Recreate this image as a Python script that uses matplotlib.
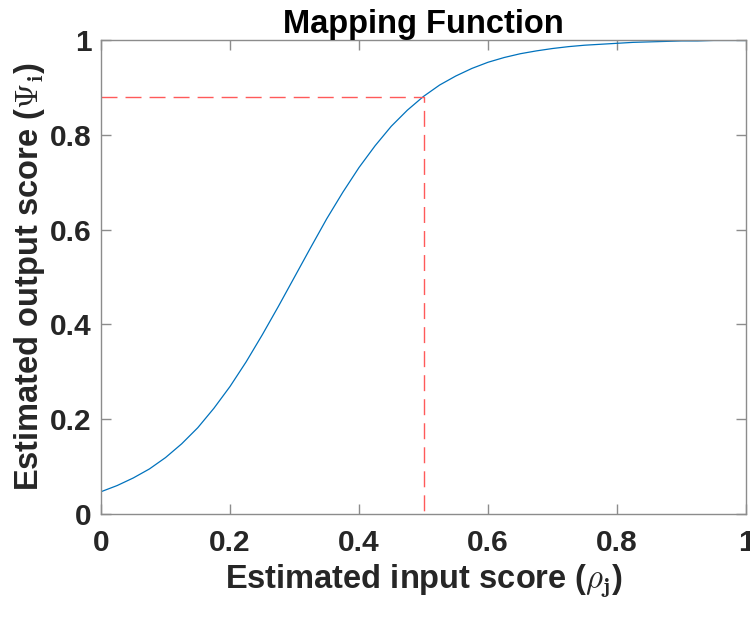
import numpy as np
import matplotlib
matplotlib.use("Agg")
import matplotlib.pyplot as plt

# values
x_vals = [0.000, 0.025, 0.050, 0.075, 0.100, 0.125, 0.150, 0.175, 0.200, 0.225,
          0.250, 0.275, 0.300, 0.325, 0.350, 0.375, 0.400, 0.425, 0.450, 0.475,
          0.500, 0.525, 0.550, 0.575, 0.600, 0.625, 0.650, 0.675, 0.700, 0.725,
          0.750, 0.775, 0.800, 0.825, 0.850, 0.875, 0.900, 0.925, 0.950, 0.975,
          1.000]
y_vals = [0.047, 0.060, 0.076, 0.095, 0.119, 0.148, 0.182, 0.223, 0.269, 0.321,
          0.378, 0.438, 0.500, 0.562, 0.623, 0.679, 0.731, 0.777, 0.818, 0.852,
          0.881, 0.905, 0.924, 0.940, 0.953, 0.963, 0.971, 0.977, 0.982, 0.986,
          0.989, 0.991, 0.993, 0.995, 0.996, 0.997, 0.998, 0.998, 0.999, 0.999,
          0.999]

# marker lines (input 0.5 -> output 0.88)
guide_x = [0.0, 0.5, 0.5]
guide_y = [0.88, 0.88, 0.0]

ticks = [0, 0.2, 0.4, 0.6, 0.8, 1]
tick_labels = ["0", "0.2", "0.4", "0.6", "0.8", "1"]

plt.rcParams["font.family"] = ["Liberation Sans", "DejaVu Sans"]
plt.rcParams["mathtext.fontset"] = "cm"

fig = plt.figure(figsize=(7.5, 6.18), dpi=100)
ax = fig.add_axes([0.1347, 0.1683, 0.86, 0.767])

ax.plot(x_vals, y_vals, color="#0072BD", lw=0.9)
ax.plot(guide_x, guide_y, color="#ff5a5a", lw=1.0, dashes=(11.5, 5.8))

ax.set_xlim(0, 1)
ax.set_ylim(0, 1)
ax.set_xticks(ticks)
ax.set_xticklabels(tick_labels)
ax.set_yticks(ticks)
ax.set_yticklabels(tick_labels)

ax.tick_params(direction="in", length=7, width=1, color="#8c8c8c",
               top=True, right=True, labelsize=21.5, labelcolor="#262626")
ax.tick_params(axis="x", pad=11)
ax.tick_params(axis="y", pad=7)
for lbl in ax.get_xticklabels() + ax.get_yticklabels():
    lbl.set_fontweight("bold")
for sp in ax.spines.values():
    sp.set_color("#8c8c8c")
    sp.set_linewidth(1)

ax.set_xlabel(r"Estimated input score ($\rho_{\mathbf{j}}$)", fontsize=23.5,
              fontweight="bold", color="#262626", labelpad=4)
ax.set_ylabel(r"Estimated output score ($\Psi_{\mathbf{i}}$)", fontsize=23.5,
              fontweight="bold", color="#262626", labelpad=2)
ax.set_title("Mapping Function", fontsize=23.5, fontweight="bold", pad=5)

fig.savefig("out.png", dpi=100)
